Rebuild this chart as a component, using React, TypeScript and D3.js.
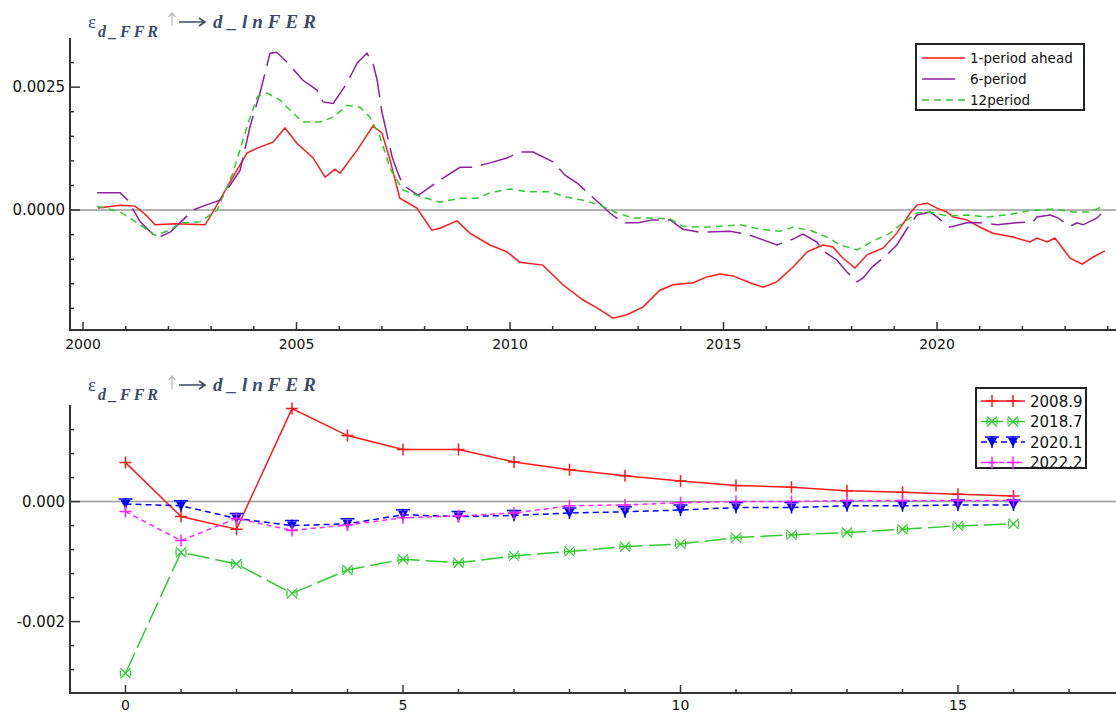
import React from 'react';
import * as d3 from 'd3';

// ---- top panel: responses over time ----
const aheadYears = [2000.35, 2000.87, 2001.22, 2001.45, 2001.69, 2002.16, 2002.86, 2003.04, 2003.51, 2003.84, 2004.08, 2004.45, 2004.73, 2005.01, 2005.39, 2005.67, 2005.9, 2006.02, 2006.42, 2006.79, 2007.0, 2007.19, 2007.42, 2007.82, 2008.17, 2008.36, 2008.76, 2009.06, 2009.53, 2009.93, 2010.23, 2010.77, 2011.24, 2011.71, 2012.04, 2012.41, 2012.74, 2013.12, 2013.51, 2013.82, 2014.29, 2014.61, 2014.92, 2015.22, 2015.62, 2015.93, 2016.25, 2016.63, 2016.96, 2017.33, 2017.56, 2017.8, 2018.08, 2018.36, 2018.74, 2019.06, 2019.37, 2019.53, 2019.77, 2020.0, 2020.23, 2020.38, 2020.7, 2021.01, 2021.31, 2021.78, 2022.18, 2022.34, 2022.58, 2022.76, 2023.12, 2023.4, 2023.65, 2023.93];
const aheadValues = [0.00004, 0.0001, 0.00008, -0.00008, -0.0003, -0.00028, -0.0003, -0.00004, 0.00067, 0.00116, 0.00126, 0.00138, 0.00167, 0.00136, 0.00106, 0.00067, 0.00083, 0.00075, 0.00122, 0.00171, 0.00157, 0.00102, 0.00024, 0.00004, -0.00041, -0.00037, -0.00022, -0.00047, -0.00071, -0.00085, -0.00106, -0.00112, -0.00152, -0.00183, -0.00199, -0.0022, -0.00213, -0.00197, -0.00163, -0.00152, -0.00148, -0.00136, -0.0013, -0.00134, -0.00148, -0.00157, -0.00146, -0.00116, -0.00085, -0.00071, -0.00075, -0.00098, -0.00118, -0.00091, -0.00077, -0.00047, -0.00006, 0.0001, 0.00014, 0.00004, -0.00004, -0.00014, -0.0002, -0.00035, -0.00047, -0.00055, -0.00065, -0.00057, -0.00065, -0.00057, -0.00098, -0.0011, -0.00096, -0.00083];

const sixYears = [2000.33, 2000.87, 2001.05, 2001.34, 2001.73, 2002.04, 2002.27, 2002.58, 2002.81, 2003.21, 2003.68, 2003.91, 2004.15, 2004.38, 2004.54, 2004.8, 2005.15, 2005.48, 2005.62, 2005.86, 2006.18, 2006.42, 2006.65, 2006.79, 2006.89, 2007.0, 2007.07, 2007.24, 2007.35, 2007.49, 2007.85, 2008.13, 2008.43, 2008.83, 2009.13, 2009.53, 2009.93, 2010.23, 2010.54, 2011.01, 2011.29, 2011.57, 2011.94, 2012.34, 2012.65, 2013.0, 2013.33, 2013.75, 2014.05, 2014.45, 2015.15, 2015.55, 2016.25, 2016.63, 2016.86, 2017.19, 2017.33, 2017.66, 2017.89, 2018.13, 2018.27, 2018.48, 2018.83, 2019.06, 2019.32, 2019.53, 2019.84, 2020.0, 2020.3, 2020.7, 2021.08, 2021.41, 2021.87, 2022.25, 2022.34, 2022.65, 2022.83, 2023.12, 2023.28, 2023.42, 2023.75, 2023.89];
const sixValues = [0.00035, 0.00035, 0.0002, -0.00024, -0.00057, -0.00045, -0.00026, 0.0, 0.00008, 0.0002, 0.00081, 0.00169, 0.0024, 0.00319, 0.00321, 0.00299, 0.00264, 0.00244, 0.0022, 0.00217, 0.00258, 0.00299, 0.00319, 0.00299, 0.00264, 0.00199, 0.00173, 0.00108, 0.00081, 0.00051, 0.0003, 0.00047, 0.00065, 0.00087, 0.00087, 0.00096, 0.00106, 0.00118, 0.00118, 0.00098, 0.00071, 0.00055, 0.00026, -0.00006, -0.00026, -0.00026, -0.0002, -0.0002, -0.00039, -0.00045, -0.00043, -0.00049, -0.00071, -0.00059, -0.00049, -0.00065, -0.00083, -0.00102, -0.00126, -0.00146, -0.00138, -0.00116, -0.00091, -0.00071, -0.00035, -0.0001, -0.00004, -0.00014, -0.00035, -0.00026, -0.00026, -0.0003, -0.00026, -0.00024, -0.00014, -0.0001, -0.00016, -0.00033, -0.00026, -0.0003, -0.00016, -0.00004];

const twelveYears = [2000.33, 2000.87, 2001.34, 2001.69, 2002.04, 2002.27, 2002.74, 2003.14, 2003.51, 2003.84, 2004.08, 2004.31, 2004.61, 2004.85, 2005.15, 2005.55, 2005.86, 2006.18, 2006.49, 2006.72, 2006.96, 2007.19, 2007.49, 2007.82, 2008.36, 2008.83, 2009.23, 2009.53, 2010.0, 2010.4, 2010.94, 2011.34, 2011.71, 2012.11, 2012.51, 2012.88, 2013.28, 2013.75, 2014.05, 2014.52, 2014.92, 2015.39, 2015.86, 2016.32, 2016.63, 2017.03, 2017.42, 2017.73, 2018.13, 2018.5, 2018.9, 2019.2, 2019.53, 2019.84, 2020.23, 2020.7, 2021.17, 2021.64, 2022.11, 2022.72, 2023.19, 2023.58, 2023.89];
const twelveValues = [0.00008, -0.00004, -0.0003, -0.00051, -0.00041, -0.00026, -0.00024, 0.0, 0.00075, 0.00169, 0.0023, 0.00238, 0.00224, 0.00203, 0.00179, 0.00179, 0.00189, 0.00213, 0.00209, 0.00189, 0.00148, 0.00085, 0.00041, 0.0003, 0.00016, 0.00024, 0.00024, 0.00035, 0.00043, 0.00037, 0.00037, 0.00026, 0.0002, 0.0001, -0.00006, -0.00016, -0.00016, -0.00018, -0.00033, -0.00035, -0.00033, -0.0003, -0.00039, -0.00043, -0.00035, -0.00041, -0.00055, -0.00071, -0.00081, -0.00063, -0.00047, -0.00026, -0.00006, -0.00004, -0.00012, -0.0001, -0.00014, -0.0001, -0.00002, 0.00002, -0.00004, -0.00004, 0.00008];

// ---- bottom panel: impulse responses by horizon ----
const horizons = [0, 1, 2, 3, 4, 5, 6, 7, 8, 9, 10, 11, 12, 13, 14, 15, 16];
const resp2008 = [0.00065, -0.00025, -0.00046, 0.00155, 0.0011, 0.00087, 0.00087, 0.00066, 0.00053, 0.00043, 0.000345, 0.00027, 0.00024, 0.00018, 0.000157, 0.000123, 0.000095];
const resp2018 = [-0.00286, -0.000845, -0.00104, -0.00153, -0.00114, -0.00096, -0.00102, -0.000905, -0.00083, -0.00075, -0.000705, -0.0006, -0.000555, -0.000516, -0.00046, -0.000405, -0.00037];
const resp2020 = [-0.00004, -0.00007, -0.00028, -0.0004, -0.00037, -0.00022, -0.00025, -0.00023, -0.00019, -0.00017, -0.00014, -0.0001, -0.0001, -0.00007, -0.00007, -0.000055, -0.000055];
const resp2022 = [-0.000167, -0.00065, -0.00028, -0.00048, -0.00039, -0.00027, -0.00024, -0.00019, -0.00007, -0.000055, -0.00002, 0.0, 0.0, 0.00002, 0.00002, 0.00002, 0.00002];

const topTickYears = d3.range(2000, 2025);
const topLabelYears = [2000, 2005, 2010, 2015, 2020];
const topYTicks = d3.range(-4, 7).map((k) => k * 0.0005);
const topYLabels = [0.0025, 0.0];
const botXTicks = d3.range(0, 18);
const botXLabels = [0, 5, 10, 15];
const botYTicks = d3.range(-7, 4).map((k) => k * 0.0004);
const botYLabels = [0.0, -0.002];

const topLegend = ['1-period ahead', '6-period', '12period'];
const botLegend = ['2008.9', '2018.7', '2020.1', '2022.2'];

const RED = '#ff1a1a';
const PURPLE = '#8e1f9e';
const GREEN = '#2fcc2f';
const BLUE = '#0000ff';
const MAGENTA = '#ff22ff';
const AXIS = '#333';
const TITLE = '#3b4a6b';
const FONT = '"DejaVu Sans", Verdana, sans-serif';

// title: epsilon with subscript, small up arrow, right arrow, response name
const Title = ({ y }: { y: number }) => (
  <g fill={TITLE} fontFamily='"Liberation Serif", "DejaVu Serif", serif'>
    <text x={88} y={y} fontSize={19}>ε</text>
    <text x={98} y={y + 9} fontSize={16} fontStyle="italic" fontWeight="bold" letterSpacing={3}>d_FFR</text>
    <path d={`M172,${y - 2}V${y - 15}M168.5,${y - 11}L172,${y - 15}L175.5,${y - 11}`} stroke="#b8b8b8" strokeWidth={1.2} fill="none" />
    <path d={`M179,${y - 6}H205M199,${y - 10}L205,${y - 6}L199,${y - 2}`} stroke={TITLE} strokeWidth={1.6} fill="none" />
    <text x={213} y={y} fontSize={19} fontStyle="italic" fontWeight="bold" letterSpacing={5}>d_lnFER</text>
  </g>
);

const Plus = ({ x, y, color, r = 6 }: any) => (
  <path d={`M${x - r},${y}H${x + r}M${x},${y - r}V${y + r}`} stroke={color} strokeWidth={1.5} fill="none" />
);
const Cross = ({ x, y, color }: any) => (
  <path
    d={`M${x - 5},${y - 5}L${x + 5},${y + 5}M${x - 5},${y + 5}L${x + 5},${y - 5}M${x - 5},${y - 3}V${y + 3}M${x + 5},${y - 3}V${y + 3}`}
    stroke={color} strokeWidth={1.3} fill="none"
  />
);
const TriDown = ({ x, y, color }: any) => (
  <g>
    <path d={`M${x - 5},${y - 4}L${x + 5},${y - 4}L${x},${y + 5}Z`} fill={color} />
    <path d={`M${x - 7},${y - 5}H${x + 7}M${x},${y - 6}V${y + 6}`} stroke={color} strokeWidth={1.5} />
  </g>
);

export default function App() {
  const W = 1116;
  const H = 713;

  // top panel scales
  const xTop = d3.scaleLinear().domain([2000, 2005]).range([83, 296.5]);
  const yTop = d3.scaleLinear().domain([-0.00244, 0.0035]).range([330, 38]);
  const topLine = (xs: number[], vs: number[]) =>
    d3.line<number>().x((_, i) => xTop(xs[i])).y((v) => yTop(v))(vs) || '';

  // bottom panel scales
  const xBot = d3.scaleLinear().domain([-1, 18]).range([70, 1124.5]);
  const yBot = d3.scaleLinear().domain([-0.00319, 0.00161]).range([693, 405]);
  const botLine = (vs: number[]) =>
    d3.line<number>().x((_, i) => xBot(horizons[i])).y((v) => yBot(v))(vs) || '';

  const topSeries = [
    { name: topLegend[0], xs: aheadYears, vs: aheadValues, color: RED, dash: undefined, len: 43 },
    { name: topLegend[1], xs: sixYears, vs: sixValues, color: PURPLE, dash: '34 9', len: 33 },
    { name: topLegend[2], xs: twelveYears, vs: twelveValues, color: GREEN, dash: '7 5', len: 43 },
  ];

  const botSeries = [
    { name: botLegend[0], vs: resp2008, color: RED, dash: undefined, marker: 'plus' },
    { name: botLegend[1], vs: resp2018, color: GREEN, dash: '22 6', marker: 'cross' },
    { name: botLegend[2], vs: resp2020, color: BLUE, dash: '6 4', marker: 'tri' },
    { name: botLegend[3], vs: resp2022, color: MAGENTA, dash: '5 4', marker: 'plus' },
  ];

  const marker = (kind: string, x: number, y: number, color: string, key: any) => {
    if (kind === 'cross') return <Cross key={key} x={x} y={y} color={color} />;
    if (kind === 'tri') return <TriDown key={key} x={x} y={y} color={color} />;
    return <Plus key={key} x={x} y={y} color={color} />;
  };

  return (
    <svg width={W} height={H} style={{ position: 'absolute', left: 0, top: 0, background: '#fff' }}>
      {/* ---------- top panel ---------- */}
      <Title y={28} />
      <line x1={70} x2={W} y1={yTop(0)} y2={yTop(0)} stroke="#999" strokeWidth={1.5} />
      {topSeries.map((s) => (
        <path key={s.name} d={topLine(s.xs, s.vs)} fill="none" stroke={s.color} strokeWidth={1.5} strokeDasharray={s.dash} />
      ))}
      <line x1={70} x2={70} y1={38} y2={331} stroke={AXIS} strokeWidth={2} />
      <line x1={69} x2={W} y1={330} y2={330} stroke={AXIS} strokeWidth={2} />
      {topYTicks.map((t) => {
        const major = topYLabels.some((l) => Math.abs(l - t) < 1e-9);
        return <line key={t} x1={70} x2={major ? 80 : 74} y1={yTop(t)} y2={yTop(t)} stroke={AXIS} strokeWidth={1.5} />;
      })}
      {topYLabels.map((t) => (
        <text key={t} x={65} y={yTop(t) + 5} textAnchor="end" fontFamily={FONT} fontSize={15} fill="#111">{t.toFixed(4)}</text>
      ))}
      {topTickYears.map((t) => {
        const major = topLabelYears.includes(t);
        return <line key={t} x1={xTop(t)} x2={xTop(t)} y1={330} y2={major ? 322 : 326} stroke={AXIS} strokeWidth={1.5} />;
      })}
      {topLabelYears.map((t) => (
        <text key={t} x={xTop(t)} y={349} textAnchor="middle" fontFamily={FONT} fontSize={14} fill="#111">{t}</text>
      ))}
      <g>
        <rect x={916} y={44} width={168} height={66} fill="#fff" stroke="#222" strokeWidth={2} />
        {topSeries.map((s, i) => {
          const yy = [58, 79, 100][i];
          return (
            <g key={s.name}>
              <line x1={922} x2={922 + s.len} y1={yy} y2={yy} stroke={s.color} strokeWidth={1.5} strokeDasharray={s.dash} />
              <text x={970} y={yy + 5} fontFamily={FONT} fontSize={13.5} fill="#111">{s.name}</text>
            </g>
          );
        })}
      </g>

      {/* ---------- bottom panel ---------- */}
      <Title y={391} />
      <line x1={70} x2={W} y1={yBot(0)} y2={yBot(0)} stroke="#999" strokeWidth={1.5} />
      {botSeries.map((s) => (
        <g key={s.name}>
          <path d={botLine(s.vs)} fill="none" stroke={s.color} strokeWidth={1.5} strokeDasharray={s.dash} />
          {s.vs.map((v, i) => marker(s.marker, xBot(horizons[i]), yBot(v), s.color, i))}
        </g>
      ))}
      <line x1={70} x2={70} y1={405} y2={694} stroke={AXIS} strokeWidth={2} />
      <line x1={69} x2={W} y1={693} y2={693} stroke={AXIS} strokeWidth={2} />
      {botYTicks.map((t) => {
        const major = botYLabels.some((l) => Math.abs(l - t) < 1e-9);
        return <line key={t} x1={70} x2={major ? 80 : 74} y1={yBot(t)} y2={yBot(t)} stroke={AXIS} strokeWidth={1.5} />;
      })}
      {botYLabels.map((t) => (
        <text key={t} x={65} y={yBot(t) + 5} textAnchor="end" fontFamily={FONT} fontSize={15} fill="#111">{t.toFixed(3)}</text>
      ))}
      {botXTicks.map((t) => {
        const major = botXLabels.includes(t);
        return <line key={t} x1={xBot(t)} x2={xBot(t)} y1={693} y2={major ? 685 : 689} stroke={AXIS} strokeWidth={1.5} />;
      })}
      {botXLabels.map((t) => (
        <text key={t} x={xBot(t)} y={710} textAnchor="middle" fontFamily={FONT} fontSize={14} fill="#111">{t}</text>
      ))}
      <g>
        <rect x={976} y={388} width={110} height={80} fill="#fff" stroke="#222" strokeWidth={2} />
        {botSeries.map((s, i) => {
          const yy = 401 + i * 20.5;
          return (
            <g key={s.name}>
              <line x1={981} x2={1025} y1={yy} y2={yy} stroke={s.color} strokeWidth={1.5} strokeDasharray={s.dash} />
              {marker(s.marker, 992, yy, s.color, 'a')}
              {marker(s.marker, 1013, yy, s.color, 'b')}
              <text x={1030} y={yy + 5.5} fontFamily={FONT} fontSize={15} fill="#111">{s.name}</text>
            </g>
          );
        })}
      </g>
    </svg>
  );
}
